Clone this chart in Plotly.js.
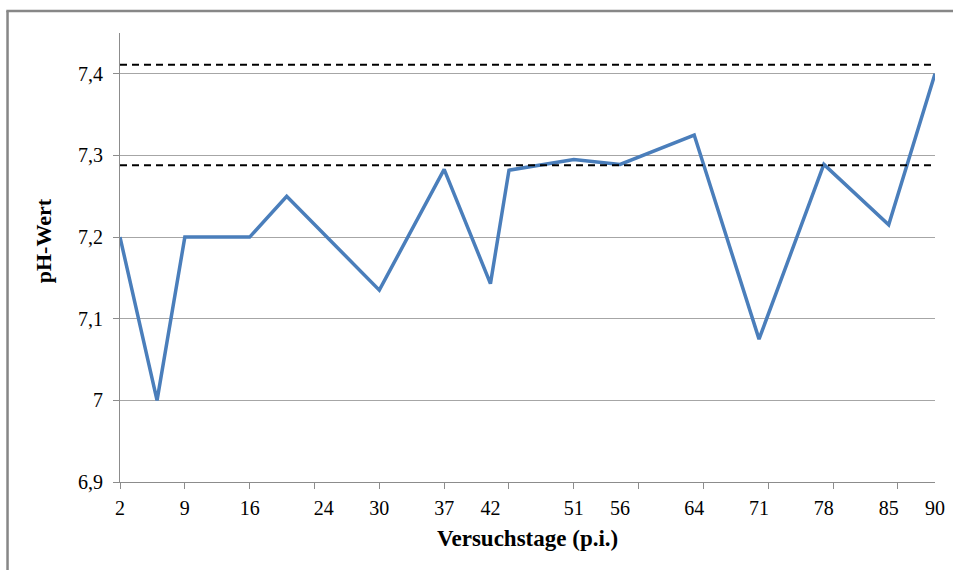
<!DOCTYPE html>
<html>
<head>
<meta charset="utf-8">
<script src="https://cdn.plot.ly/plotly-3.0.1.min.js"></script>
<style>
html,body{margin:0;padding:0;background:#fff;overflow:hidden;}
#chart{width:953px;height:570px;}
</style>
</head>
<body>
<div id="chart"></div>
<script>
// Data
const days = [2, 6, 9, 16, 20, 30, 37, 42, 44, 51, 56, 64, 71, 78, 85, 90];
const phValues = [7.2, 7.0, 7.2, 7.2, 7.25, 7.135, 7.283, 7.143, 7.282, 7.295, 7.289, 7.325, 7.075, 7.289, 7.215, 7.40];
const refUpper = [7.411, 7.411];
const refLower = [7.288, 7.288];
const refDays = [2, 90];
const xTickLabels = [2, 9, 16, 24, 30, 37, 42, 51, 56, 64, 71, 78, 85, 90];
const xTickMarks = [2, 9, 16, 23, 30, 37, 44, 51, 58, 65, 72, 79, 86];
const yTickVals = [6.9, 7.0, 7.1, 7.2, 7.3, 7.4];
const yTickText = ['6,9', '7', '7,1', '7,2', '7,3', '7,4'];

const font = "'Liberation Serif', 'Times New Roman', serif";
const gray = '#8c8c8c';

const traces = [
  {x: refDays, y: refUpper, xaxis: 'x2', yaxis: 'y', mode: 'lines',
   line: {color: '#000', width: 2, dash: '7px,5px'}, hoverinfo: 'skip'},
  {x: refDays, y: refLower, xaxis: 'x2', yaxis: 'y', mode: 'lines',
   line: {color: '#000', width: 2, dash: '7px,5px'}, hoverinfo: 'skip'},
  {x: days, y: phValues, mode: 'lines',
   line: {color: '#4A7EBB', width: 3.5}}
];

const layout = {
  width: 953, height: 570,
  margin: {l: 120, r: 18, t: 33, b: 88},
  paper_bgcolor: '#fff', plot_bgcolor: '#fff',
  showlegend: false,
  font: {family: font, size: 20, color: '#000'},
  xaxis: {
    type: 'linear', range: [2, 90],
    tickmode: 'array', tickvals: xTickLabels, ticktext: xTickLabels.map(String),
    ticks: '', showgrid: false, zeroline: false,
    showline: true, linecolor: gray, linewidth: 1,
    ticklabelstandoff: 8,
    tickfont: {family: font, size: 20, color: '#000'}
  },
  xaxis2: {
    type: 'linear', range: [2, 90], overlaying: 'x', anchor: 'y', side: 'bottom',
    tickmode: 'array', tickvals: xTickMarks,
    ticks: 'outside', ticklen: 6, tickcolor: gray, tickwidth: 1,
    showticklabels: false, showgrid: false, zeroline: false, showline: false
  },
  yaxis: {
    range: [6.9, 7.45],
    tickmode: 'array', tickvals: yTickVals, ticktext: yTickText,
    ticks: 'outside', ticklen: 6, tickcolor: gray, tickwidth: 1,
    showline: true, linecolor: gray, linewidth: 1,
    showgrid: true, gridcolor: '#a6a6a6', gridwidth: 1,
    zeroline: false, ticklabelstandoff: 6,
    tickfont: {family: font, size: 20, color: '#000'}
  },
  annotations: [
    {text: '<b>Versuchstage (p.i.)</b>', xref: 'paper', yref: 'paper',
     x: 0.5006, y: -0.125, xanchor: 'center', yanchor: 'middle', showarrow: false,
     font: {family: font, size: 23, color: '#000'}},
    {text: '<b>pH-Wert</b>', xref: 'paper', yref: 'paper',
     x: -0.094, y: 0.537, xanchor: 'center', yanchor: 'middle', showarrow: false,
     textangle: -90, font: {family: font, size: 22, color: '#000'}}
  ],
  shapes: [
    {type: 'line', xref: 'paper', yref: 'paper', x0: -0.138, x1: -0.138, y0: 1.049, y1: -0.2,
     line: {color: '#878787', width: 2.5}},
    {type: 'line', xref: 'paper', yref: 'paper', x0: -0.1395, x1: 1.0221, y0: 1.049, y1: 1.049,
     line: {color: '#878787', width: 2.5}}
  ]
};

Plotly.newPlot('chart', traces, layout, {displayModeBar: false, staticPlot: true});
</script>
</body>
</html>
